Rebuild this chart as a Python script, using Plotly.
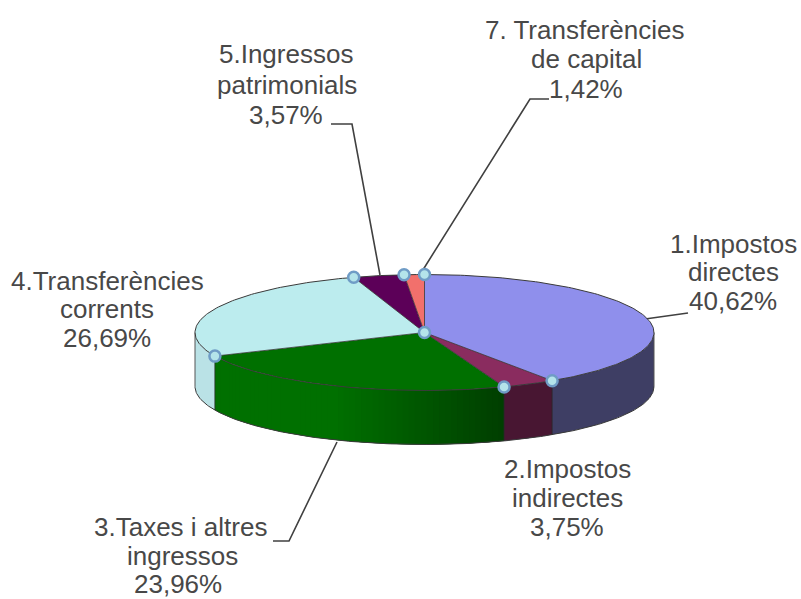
import math
import plotly.graph_objects as go

# ---- data ----
categories = ["1.Impostos directes", "2.Impostos indirectes", "3.Taxes i altres ingressos",
              "4.Transferències corrents", "5.Ingressos patrimonials", "7. Transferències de capital"]
values = [40.62, 3.75, 23.96, 26.69, 3.57, 1.42]
label_lines = [
    ["1.Impostos", "directes", "40,62%"],
    ["2.Impostos", "indirectes", "3,75%"],
    ["3.Taxes i altres", "ingressos", "23,96%"],
    ["4.Transferències", "corrents", "26,69%"],
    ["5.Ingressos", "patrimonials", "3,57%"],
    ["7. Transferències", "de capital", "1,42%"],
]
top_colors = ["#8f8fec", "#8a2c5f", "#007000", "#bcecee", "#5c0058", "#f2706c"]
side_left = [(62, 62, 100), (72, 22, 50), (0, 112, 0), (186, 226, 230), (40, 0, 40), (120, 60, 60)]
side_right = [(62, 62, 100), (72, 22, 50), (0, 62, 0), (186, 226, 230), (40, 0, 40), (120, 60, 60)]

# ---- layout of the drawing, in page pixels ----
W, H = 801, 599
CX, CY, RX, RY, DEPTH = 424.5, 332.5, 229.5, 58, 54
label_pos = [
    [(733, 244), (733, 272), (733, 301)],
    [(567, 469), (567, 498), (567, 527)],
    [(180, 527), (182, 555.5), (178, 584)],
    [(107, 281), (107, 309), (107, 338)],
    [(286, 54), (287, 85), (286, 115)],
    [(584, 30), (586, 59), (586, 89)],
]
leaders = [
    [(688, 313), (645, 319)],
    [(273, 541), (289, 541), (337, 442)],
    [(331, 124), (352, 124), (380, 275)],
    [(549, 99), (530, 99), (421, 273)],
]


def pt(deg, dy=0.0):
    a = math.radians(deg)
    return CX + RX * math.sin(a), CY - RY * math.cos(a) + dy


def arc(a0, a1, dy=0.0):
    n = max(2, int(abs(a1 - a0) / 1.0) + 1)
    return [pt(a0 + (a1 - a0) * i / n, dy) for i in range(n + 1)]


def poly(points, fill):
    return go.Scatter(x=[p[0] for p in points] + [points[0][0]], y=[p[1] for p in points] + [points[0][1]],
                      mode="lines", fill="toself", fillcolor=fill,
                      line=dict(color=fill, width=0),
                      hoverinfo="skip", showlegend=False)


def path(points, color, width):
    return go.Scatter(x=[p[0] for p in points], y=[p[1] for p in points], mode="lines",
                      line=dict(color=color, width=width), hoverinfo="skip", showlegend=False)


total = sum(values)
bounds = [0.0]
for v in values:
    bounds.append(bounds[-1] + v / total * 360.0)

fig = go.Figure()
EDGE = "#3a3a3a"

# leader lines sit under the pie
for seg in leaders:
    fig.add_trace(path(seg, "#404040", 1.6))

# side wall: only the front half (90..270 deg clockwise from the top) shows
for i, v in enumerate(values):
    a0, a1 = max(bounds[i], 90.0), min(bounds[i + 1], 270.0)
    if a1 <= a0:
        continue
    flat = side_left[i] == side_right[i]
    n = 1 if flat else max(1, int((a1 - a0) / 1.5))
    step = (a1 - a0) / n
    for k in range(n):
        s0 = a0 + step * k
        s1 = s0 + step
        # t runs 0 at the left of the wall to 1 at the right
        xm = pt((s0 + s1) / 2)[0]
        t = min(1.0, max(0.0, (xm - (CX - 90)) / 170.0))
        c = [round(side_left[i][j] + (side_right[i][j] - side_left[i][j]) * t) for j in range(3)]
        col = f"rgb({c[0]},{c[1]},{c[2]})"
        # each strip runs under the next one, so no seam shows between them
        s_end = min(s1 + step, 270.0)
        fig.add_trace(poly(arc(s0, s_end) + arc(s_end, s0, DEPTH), col))

# wall outlines
fig.add_trace(path(arc(90, 270, DEPTH), EDGE, 1.0))
fig.add_trace(path([pt(90), pt(90, DEPTH)], "#555555", 1.0))
fig.add_trace(path([pt(270), pt(270, DEPTH)], "#555555", 1.0))
for b in bounds[1:-1]:
    if 90 < b < 270:
        fig.add_trace(path([pt(b), pt(b, DEPTH)], "#2a2a2a", 0.8))

# top faces
for i, v in enumerate(values):
    pts = [(CX, CY)] + arc(bounds[i], bounds[i + 1])
    fig.add_trace(poly(pts, top_colors[i]))
fig.add_trace(path(arc(0, 360), EDGE, 1.0))
for b in bounds[:-1]:
    fig.add_trace(path([(CX, CY), pt(b)], "#333333", 0.8))

# selection handles on the slice boundaries and the centre
hx = [pt(b)[0] for b in bounds[1:]] + [CX]
hy = [pt(b)[1] for b in bounds[1:]] + [CY]
fig.add_trace(go.Scatter(x=hx, y=hy, mode="markers", hoverinfo="skip", showlegend=False,
                         marker=dict(size=11, color="#b4e4ea", line=dict(color="#6f9cc6", width=2.5))))

annotations = []
for lines, positions in zip(label_lines, label_pos):
    for text, (x, y) in zip(lines, positions):
        annotations.append(dict(x=x, y=y, xref="x", yref="y", text=text, showarrow=False,
                                xanchor="center", yanchor="middle",
                                font=dict(family="Liberation Sans, Arial, sans-serif", size=26, color="#484848")))

fig.update_layout(
    width=W, height=H, autosize=False,
    margin=dict(l=0, r=0, t=0, b=0),
    paper_bgcolor="white", plot_bgcolor="white",
    xaxis=dict(range=[0, W], visible=False, fixedrange=True),
    yaxis=dict(range=[H, 0], visible=False, fixedrange=True),
    annotations=annotations,
    showlegend=False,
)
fig.write_html("out.html", config={"displayModeBar": False},
               post_script="document.body.style.margin='0';document.body.style.overflow='hidden';")
